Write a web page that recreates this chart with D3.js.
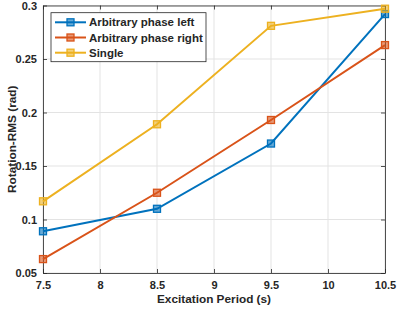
<!DOCTYPE html>
<html><head><meta charset="utf-8">
<script src="https://cdn.jsdelivr.net/npm/d3@7/dist/d3.min.js"></script>
<style>
body{margin:0;background:#fff;}
text{font-family:"Liberation Sans",Arial,sans-serif;font-weight:bold;fill:#262626;}
</style></head>
<body><svg id="c" width="397" height="310"></svg>
<script>
const periods = [7.5, 8.5, 9.5, 10.5];
const seriesNames = ["Arbitrary phase left", "Arbitrary phase right", "Single"];
const leftValues = [0.089, 0.110, 0.171, 0.292];
const rightValues = [0.063, 0.125, 0.193, 0.263];
const singleValues = [0.117, 0.189, 0.281, 0.297];
const colors = ["#0072BD", "#D95319", "#EDB120"];
const xTicks = [7.5, 8, 8.5, 9, 9.5, 10, 10.5];
const yTicks = [0.05, 0.1, 0.15, 0.2, 0.25, 0.3];
const xTitle = "Excitation Period (s)";
const yTitle = "Rotation-RMS (rad)";

const series = [leftValues, rightValues, singleValues];
const L = 43, R = 385, T = 5.5, B = 273;
const svg = d3.select("#c");
const x = d3.scaleLinear().domain([7.5, 10.5]).range([L, R]);
const y = d3.scaleLinear().domain([0.05, 0.3]).range([B, T]);

// grid
const g = svg.append("g");
g.selectAll(".gx").data(xTicks).enter().append("line")
  .attr("x1", d => x(d)).attr("x2", d => x(d)).attr("y1", T).attr("y2", B)
  .attr("stroke", "#e3e3e3").attr("stroke-width", 1);
g.selectAll(".gy").data(yTicks).enter().append("line")
  .attr("y1", d => y(d)).attr("y2", d => y(d)).attr("x1", L).attr("x2", R)
  .attr("stroke", "#e3e3e3").attr("stroke-width", 1);

// axes
const fmt = d => String(d);
const ax = svg.append("g").attr("transform", `translate(0,${B})`)
  .call(d3.axisBottom(x).tickValues(xTicks).tickFormat(fmt).tickSizeInner(-4).tickSizeOuter(0).tickPadding(8));
const axT = svg.append("g").attr("transform", `translate(0,${T})`)
  .call(d3.axisTop(x).tickValues(xTicks).tickFormat("").tickSizeInner(-4).tickSizeOuter(0));
const ay = svg.append("g").attr("transform", `translate(${L},0)`)
  .call(d3.axisLeft(y).tickValues(yTicks).tickFormat(fmt).tickSizeInner(-4).tickSizeOuter(0).tickPadding(6));
const ayR = svg.append("g").attr("transform", `translate(${R},0)`)
  .call(d3.axisRight(y).tickValues(yTicks).tickFormat("").tickSizeInner(-4).tickSizeOuter(0));
[ax, axT, ay, ayR].forEach(a => {
  a.select(".domain").attr("stroke", "#262626").attr("stroke-width", 0.8);
  a.selectAll(".tick line").attr("stroke", "#262626").attr("stroke-width", 0.8);
  a.selectAll("text").attr("font-size", 11).attr("fill", "#262626")
    .attr("font-family", '"Liberation Sans",Arial,sans-serif').attr("font-weight", "bold");
});

// lines
const line = d3.line().x((d, i) => x(periods[i])).y(d => y(d));
series.forEach((vals, k) => {
  svg.append("path").datum(vals).attr("d", line).attr("fill", "none")
    .attr("stroke", colors[k]).attr("stroke-width", 2);
  svg.selectAll(null).data(vals).enter().append("rect")
    .attr("x", (d, i) => x(periods[i]) - 3.5).attr("y", d => y(d) - 3.5)
    .attr("width", 7).attr("height", 7)
    .attr("fill", colors[k]).attr("fill-opacity", 0.6)
    .attr("stroke", colors[k]).attr("stroke-width", 1.3);
});

// legend
const lg = svg.append("g");
lg.append("rect").attr("x", 51).attr("y", 12.7).attr("width", 155).attr("height", 49)
  .attr("fill", "#fff").attr("stroke", "#262626").attr("stroke-width", 0.8);
seriesNames.forEach((n, k) => {
  const yy = 22.3 + k * 15.2;
  lg.append("line").attr("x1", 55).attr("x2", 86).attr("y1", yy).attr("y2", yy)
    .attr("stroke", colors[k]).attr("stroke-width", 2);
  lg.append("rect").attr("x", 70.5 - 3.5).attr("y", yy - 3.5).attr("width", 7).attr("height", 7)
    .attr("fill", colors[k]).attr("fill-opacity", 0.6).attr("stroke", colors[k]).attr("stroke-width", 1.3);
  lg.append("text").attr("x", 89).attr("y", yy).attr("dy", "0.35em")
    .attr("font-size", 11.5).text(n);
});

// titles
svg.append("text").attr("x", (L + R) / 2).attr("y", 303).attr("text-anchor", "middle")
  .attr("font-size", 11.8).text(xTitle);
svg.append("text").attr("transform", `translate(12,${(T + B) / 2}) rotate(-90)`)
  .attr("text-anchor", "middle").attr("dy", "0.35em").attr("font-size", 11.8).text(yTitle);
</script></body></html>
